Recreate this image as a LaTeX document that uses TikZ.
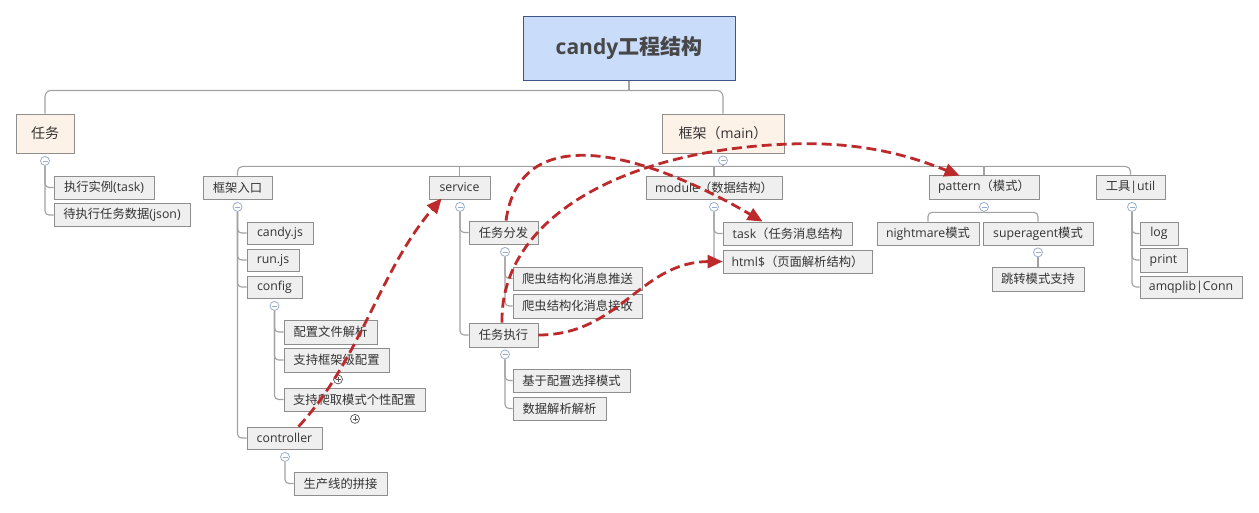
\documentclass[tikz,border=0pt]{standalone}
\usepackage{fontspec}
\setmainfont{Open Sans}
\newfontfamily\cjk{Noto Sans CJK SC}
\usetikzlibrary{arrows.meta,calc}
\definecolor{boxfill}{HTML}{EFEFEF}
\definecolor{boxdraw}{HTML}{8E8E8E}
\definecolor{linecol}{HTML}{A2A2A2}
\definecolor{textcol}{HTML}{333333}
\definecolor{titlefill}{HTML}{C9DCFA}
\definecolor{titledraw}{HTML}{3F5585}
\definecolor{titletext}{HTML}{474747}
\definecolor{topfill}{HTML}{FDF2E8}
\definecolor{mincol}{HTML}{9AAECB}
\definecolor{pluscol}{HTML}{555555}
\definecolor{redc}{HTML}{BC2A2C}
\newcommand\zh[1]{{\cjk #1}}
\begin{document}
\begin{tikzpicture}[x=1pt,y=-1pt,
  box/.style={draw=boxdraw, fill=boxfill, line width=0.8pt, inner sep=0pt, text=textcol,
    font=\fontsize{12.3}{14}\selectfont, minimum height=23pt},
  topbox/.style={draw=boxdraw, fill=topfill, line width=0.8pt, inner sep=0pt, text=textcol,
    font=\fontsize{14}{16}\selectfont, minimum height=39pt},
  conn/.style={draw=linecol, line width=1.1pt},
  minus/.style={circle, draw=mincol, fill=white, line width=0.8pt, minimum size=9pt, inner sep=0pt,
    path picture={\draw[mincol, line width=0.8pt] ([xshift=-2.5pt]path picture bounding box.center) -- ([xshift=2.5pt]path picture bounding box.center);}},
  plus/.style={circle, draw=pluscol, fill=white, line width=0.7pt, minimum size=9pt, inner sep=0pt,
    path picture={\draw[pluscol, line width=0.7pt] ([xshift=-2.5pt]path picture bounding box.center) -- ([xshift=2.5pt]path picture bounding box.center) ([yshift=-2.5pt]path picture bounding box.center) -- ([yshift=2.5pt]path picture bounding box.center);}},
  rel/.style={draw=redc, line width=2.8pt, dash pattern=on 10pt off 5pt, -{Triangle[length=15pt,width=13pt]}}
]
\useasboundingbox[fill=white] (0,0) rectangle (1259,512);

% top level
\node[draw=titledraw, fill=titlefill, line width=1pt, minimum width=212pt, minimum height=64pt, inner sep=0pt,
  font=\fontsize{21}{25}\selectfont\bfseries, text=titletext] (title) at (629,48) {candy\zh{工程结构}};
\node[topbox, minimum width=58pt] (renwu) at (45,133.5) {\zh{任务}};
\node[topbox, minimum width=122pt] (kuangjia) at (723,133.5) {\zh{框架（}main\zh{）}};

\coordinate (hub) at ($(title.south)+(0,10)$);
\draw[conn] (title.south) -- (hub);
\draw[conn, rounded corners=6pt] (renwu.north) |- (hub) -| (kuangjia.north);

% 任务 children
\node[box, minimum width=100pt] (task1) at (104,187.5) {\zh{执行实例}(task)};
\node[box, minimum width=136pt] (task2) at (122,215) {\zh{待执行任务数据}(json)};
\node[minus] (c-renwu) at ($(renwu.south)+(0,7.5)$) {};
\draw[conn, rounded corners=4pt] (c-renwu.south) |- (task1.west);
\draw[conn, rounded corners=4pt] (c-renwu.south) |- (task2.west);

% 框架 children
\node[box, minimum width=69pt] (rukou) at (237.5,187.5) {\zh{框架入口}};
\node[box, minimum width=61pt] (service) at (459.5,187.5) {service};
\node[box, minimum width=136pt] (module) at (714,187.5) {module\zh{（数据结构）}};
\node[box, minimum width=110pt, minimum height=24pt] (pattern) at (984,187) {pattern\zh{（模式）}};
\node[box, minimum width=69pt, minimum height=24pt] (util) at (1130.5,187) {\zh{工具}|util};
\node[minus] (c-kuangjia) at ($(kuangjia.south)+(0,7)$) {};
\coordinate (fhub) at ($(kuangjia.south)+(0,13)$);
\draw[conn] (c-kuangjia.south) -- (fhub);
\draw[conn, rounded corners=5pt] (rukou.north) |- (fhub) -| (util.north);
\draw[conn] (service.north) -- (service.north |- fhub);
\draw[conn] (module.north) -- (module.north |- fhub);
\draw[conn] (pattern.north) -- (pattern.north |- fhub);

% 框架入口 children
\node[box, minimum width=66pt, minimum height=22pt] (candyjs) at (280,233) {candy.js};
\node[box, minimum width=52pt, minimum height=22pt] (runjs) at (273,260) {run.js};
\node[box, minimum width=55pt, minimum height=22pt] (config) at (274.5,287) {config};
\node[box, minimum width=75pt, minimum height=22pt] (controller) at (284.5,438) {controller};
\node[minus] (c-rukou) at ($(rukou.south)+(0,7.5)$) {};
\foreach \n in {candyjs,runjs,config,controller}
  \draw[conn, rounded corners=4pt] (c-rukou.south) |- (\n.west);

% config children
\node[box, minimum width=93pt, minimum height=24pt] (cfg1) at (330.5,332) {\zh{配置文件解析}};
\node[box, minimum width=105pt, minimum height=24pt] (cfg2) at (336.5,360) {\zh{支持框架级配置}};
\node[box, minimum width=141pt] (cfg3) at (354.5,399.5) {\zh{支持爬取模式个性配置}};
\node[minus] (c-config) at ($(config.south)+(0,7.5)$) {};
\foreach \n in {cfg1,cfg2,cfg3}
  \draw[conn, rounded corners=4pt] (c-config.south) |- (\n.west);
\node[plus] (p-cfg2) at ($(cfg2.south)+(1.5,7)$) {};
\node[plus] (p-cfg3) at ($(cfg3.south)+(0.5,7.5)$) {};

% controller child
\node[box, minimum width=93pt] (prod) at (340.5,483.5) {\zh{生产线的拼接}};
\node[minus] (c-controller) at ($(controller.south)+(0.5,7.5)$) {};
\draw[conn, rounded corners=4pt] (c-controller.south) |- (prod.west);

% service children
\node[box, minimum width=69pt] (dispatch) at (503.5,232.5) {\zh{任务分发}};
\node[box, minimum width=69pt, minimum height=24pt] (exec) at (503.5,335) {\zh{任务执行}};
\node[minus] (c-service) at ($(service.south)+(0.5,7.5)$) {};
\draw[conn, rounded corners=4pt] (c-service.south) |- (dispatch.west);
\draw[conn, rounded corners=4pt] (c-service.south) |- (exec.west);

\node[box, minimum width=129pt] (push) at (577.5,278.5) {\zh{爬虫结构化消息推送}};
\node[box, minimum width=129pt, minimum height=24pt] (recv) at (577.5,306) {\zh{爬虫结构化消息接收}};
\node[minus] (c-dispatch) at ($(dispatch.south)+(1.5,7.5)$) {};
\draw[conn, rounded corners=4pt] (c-dispatch.south) |- (push.west);
\draw[conn, rounded corners=4pt] (c-dispatch.south) |- (recv.west);

\node[box, minimum width=117pt] (sel) at (571.5,380.5) {\zh{基于配置选择模式}};
\node[box, minimum width=93pt] (parse) at (559.5,408.5) {\zh{数据解析解析}};
\node[minus] (c-exec) at ($(exec.south)+(1.5,7)$) {};
\draw[conn, rounded corners=4pt] (c-exec.south) |- (sel.west);
\draw[conn, rounded corners=4pt] (c-exec.south) |- (parse.west);

% module children
\node[box, minimum width=129pt] (mtask) at (787.5,233.5) {task\zh{（任务消息结构}};
\node[box, minimum width=149pt] (mhtml) at (797.5,261.5) {html\$\zh{（页面解析结构）}};
\node[minus] (c-module) at ($(module.south)+(0,7.5)$) {};
\draw[conn, rounded corners=4pt] (c-module.south) |- (mtask.west);
\draw[conn, rounded corners=4pt] (c-module.south) |- (mhtml.west);

% pattern children
\node[box, minimum width=102pt] (night) at (928,233.5) {nightmare\zh{模式}};
\node[box, minimum width=110pt] (super) at (1038,233.5) {superagent\zh{模式}};
\node[minus] (c-pattern) at ($(pattern.south)+(0,7.5)$) {};
\coordinate (phub) at ($(pattern.south)+(0,13)$);
\draw[conn] (c-pattern.south) -- (phub);
\draw[conn, rounded corners=4pt] (night.north) |- (phub) -| (super.north);
\node[box, minimum width=92pt, minimum height=24pt] (jump) at (1038,279) {\zh{跳转模式支持}};
\node[minus] (c-super) at ($(super.south)+(0,7)$) {};
\draw[conn] (c-super.south) -- (jump.north);

% util children
\node[box, minimum width=38pt] (log) at (1159,233.5) {log};
\node[box, minimum width=47pt, minimum height=24pt] (print) at (1163.5,260) {print};
\node[box, minimum width=102pt, minimum height=22pt] (amqp) at (1191,287) {amqplib|Conn};
\node[minus] (c-util) at ($(util.south)+(1.5,7.5)$) {};
\foreach \n in {log,print,amqp}
  \draw[conn, rounded corners=4pt] (c-util.south) |- (\n.west);

% relationships
\draw[rel] ($(controller.north)+(14,0)$) .. controls (360,360) and (380,270) .. ($(service.south west)+(13,-1)$);
\draw[rel] ($(dispatch.north)+(2.5,0)$) .. controls (520,120) and (640,150) .. ($(mtask.north west)+(40,0)$);
\coordinate (peak) at (790,144);
\draw[rel] ($(exec.north)+(-1.5,0)$) .. controls (500,220) and (620,150) .. (peak)
  .. controls (870,141) and (920,160) .. ($(pattern.north west)+(31,1)$);
\draw[rel] (exec.east) .. controls (620,335) and (640,262) .. (mhtml.west);
\end{tikzpicture}
\end{document}
